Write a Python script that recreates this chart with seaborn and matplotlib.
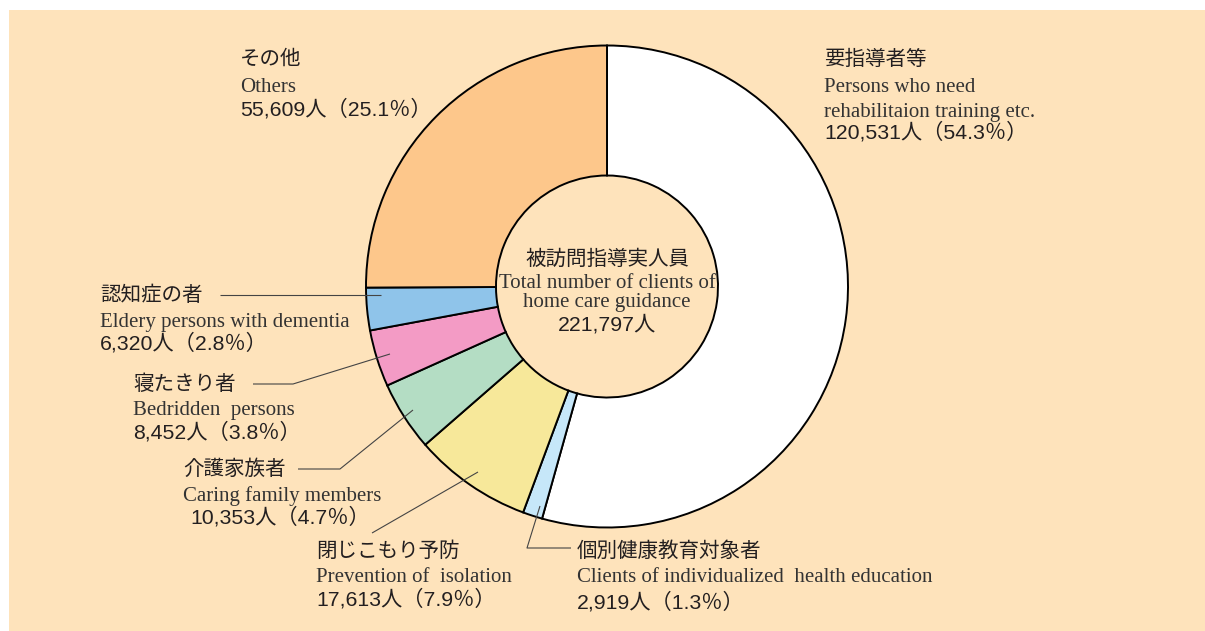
import matplotlib
matplotlib.use("Agg")
import matplotlib.pyplot as plt
from matplotlib.patches import Rectangle
import seaborn as sns

# ---- data ----
labels_jp = ["要指導者等", "個別健康教育対象者", "閉じこもり予防", "介護家族者",
             "寝たきり者", "認知症の者", "その他"]
labels_en = [["Persons who need", "rehabilitaion training etc."],
             ["Clients of individualized  health education"],
             ["Prevention of  isolation"], ["Caring family members"],
             ["Bedridden  persons"], ["Eldery persons with dementia"], ["Others"]]
values = [120531, 2919, 17613, 10353, 8452, 6320, 55609]
pcts = [54.3, 1.3, 7.9, 4.7, 3.8, 2.8, 25.1]
colors = ["#FFFFFF", "#C6E7F9", "#F7E89A", "#B4DDC4", "#F39BC5", "#8FC4EA", "#FDC78B"]
total_jp = "被訪問指導実人員"
total_en = ["Total number of clients of", "home care guidance"]
total_val = "221,797人"

sns.set_theme(style="white")
JP = ["Noto Sans CJK JP", "DejaVu Sans"]
NUM = ["Liberation Sans", "Noto Sans CJK JP", "DejaVu Sans"]
EN = ["Liberation Serif", "DejaVu Serif"]
BG = "#FEE3BB"
TXT = "#231F20"
FS_JP = 14.8
FS_EN = 15
FS_NUM = 15.3

W, H = 1205, 631
fig = plt.figure(figsize=(W / 100, H / 100), dpi=100, facecolor="white")
ax = fig.add_axes([0, 0, 1, 1])
ax.set_facecolor("none")

def Y(py):
    return H - py

ax.add_patch(Rectangle((9, 0), W - 9, H - 10, facecolor=BG, edgecolor="none", zorder=0))

cx, cy, r_out, r_in = 607, 286.5, 241, 111
pal = sns.color_palette(colors)
ax.pie(values, colors=pal, startangle=90, counterclock=False, radius=r_out,
       center=(cx, Y(cy)), frame=True,
       wedgeprops=dict(width=r_out - r_in, edgecolor="black", linewidth=1.4))

ax.set_xlim(0, W)
ax.set_ylim(0, H)
ax.set_aspect("auto")
ax.axis("off")

def num_label(i):
    return f"{values[i]:,}人（{pcts[i]}％）"

def block(x, yjp, yens, ynum, i, numx=None):
    ax.text(x, Y(yjp), labels_jp[i], family=JP, fontsize=FS_JP, color=TXT, va="center", ha="left")
    for line, yy in zip(labels_en[i], yens):
        ax.text(x, Y(yy + 2), line, family=EN, fontsize=FS_EN, color="#333333",
                va="center", ha="left")
    ax.text(numx if numx else x, Y(ynum + 1), num_label(i), family=NUM, fontsize=FS_NUM,
            color=TXT, va="center", ha="left")

block(240, 59, [86], 108, 6)
block(824, 59, [86, 110], 131, 0)
block(100, 295, [320], 342, 5)
block(133, 384, [408], 431, 4)
block(183, 469, [494], 516, 3, numx=190)
block(316, 551, [576], 598, 2)
block(577, 551, [576], 601, 1)

# center text
ax.text(cx, Y(259), total_jp, family=JP, fontsize=FS_JP, color=TXT, ha="center", va="center")
ax.text(cx, Y(283), total_en[0], family=EN, fontsize=FS_EN, color="#333333", ha="center", va="center")
ax.text(cx, Y(303), total_en[1], family=EN, fontsize=FS_EN, color="#333333", ha="center", va="center")
ax.text(cx, Y(325), total_val, family=NUM, fontsize=FS_NUM, color=TXT, ha="center", va="center")

# leader lines
LC = "#444444"
LW = 0.8
def leader(pts):
    xs = [p[0] for p in pts]
    ys = [Y(p[1]) for p in pts]
    ax.plot(xs, ys, color=LC, lw=LW, solid_capstyle="butt")

leader([(220, 295), (381, 295)])
leader([(253, 384), (293, 384), (390, 354)])
leader([(298, 469), (340, 469), (413, 410)])
leader([(372, 533), (478, 472)])
leader([(540, 506), (527, 548), (571, 548)])

fig.savefig("out.png", dpi=100, facecolor="white")
